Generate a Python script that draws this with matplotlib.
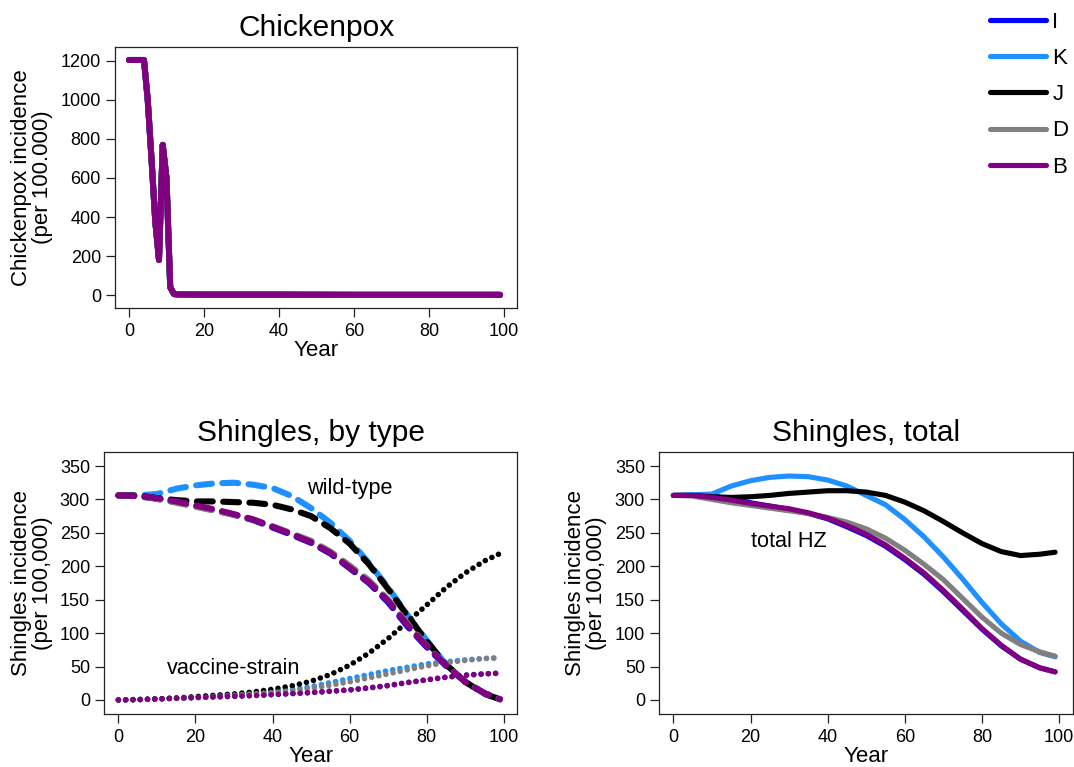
import matplotlib
matplotlib.use("Agg")
import matplotlib.pyplot as plt

plt.rcParams['font.family'] = ['Liberation Sans', 'DejaVu Sans']

# scenarios, drawing order and colours
scenarios = ['I', 'K', 'J', 'D', 'B']
colors = ['#0000FF', '#1E90FF', '#000000', '#808080', '#800080']

# chickenpox incidence (per 100.000), same for every scenario
cp_years = [0, 1, 2, 3, 4, 5, 6, 7, 8, 9, 10, 11, 12, 13, 20, 40, 60, 80, 99]
cp_vals = [1205, 1205, 1205, 1205, 1205, 1000, 700, 380, 180, 770, 600, 40, 5, 3, 2, 2, 1, 1, 1]

years = [0, 5, 10, 15, 20, 25, 30, 35, 40, 45, 50, 55, 60, 65, 70, 75, 80, 85, 90, 95, 99]

# shingles, wild-type (dashed)
wild = {
    'I': [306, 305, 301, 296, 290, 284, 277, 269, 258, 247, 235, 219, 197, 175, 146, 110, 79, 51, 27, 10, 1],
    'K': [306, 306, 308, 316, 321, 324, 325, 322, 317, 305, 287, 265, 238, 205, 168, 127, 89, 53, 27, 9, 1],
    'J': [306, 306, 302, 299, 297, 297, 296, 295, 292, 285, 275, 257, 234, 203, 166, 126, 88, 53, 27, 9, 1],
    'D': [306, 305, 301, 295, 289, 283, 277, 270, 260, 249, 238, 222, 201, 179, 150, 114, 81, 52, 27, 10, 1],
    'B': [306, 305, 302, 297, 291, 285, 278, 270, 259, 248, 236, 220, 198, 176, 148, 112, 80, 52, 27, 10, 1],
}

# shingles, vaccine-strain (dotted)
vacc = {
    'I': [0, 0.5, 1.5, 2.5, 3.5, 4.5, 5.5, 6.5, 8, 9.5, 11, 13, 15, 18, 21.5, 26, 30, 34, 37, 39, 40],
    'K': [0, 0.5, 1.5, 2.5, 4, 6, 8, 10, 13, 16, 20, 26, 32, 38, 44, 49, 54, 57, 60, 62, 63],
    'J': [0, 0.5, 1.5, 3, 5, 7, 9, 12, 16, 21, 28, 38, 52, 70, 92, 117, 142, 168, 190, 208, 219],
    'D': [0, 0.5, 1.5, 2.5, 3.5, 5, 7, 9, 11, 14, 17, 22, 27, 33, 39, 45, 51, 56, 59, 62, 63],
    'B': [0, 0.5, 1.5, 2.5, 3.5, 4.5, 5.5, 6.5, 8, 9.5, 11, 13, 15, 18, 21.5, 26, 30, 34, 37, 39, 40],
}

# shingles, total (solid)
total = {
    'I': [306, 306, 305, 301, 295, 290, 285, 279, 271, 259, 246, 230, 210, 188, 162, 134, 106, 81, 61, 48, 42],
    'K': [306, 307, 308, 320, 328, 333, 335, 334, 329, 320, 306, 292, 270, 244, 214, 181, 146, 114, 88, 71, 64.5],
    'J': [306, 306, 304, 303, 304, 306, 309, 311, 313, 313, 311, 306, 296, 283, 267, 250, 234, 222, 216, 218, 221],
    'D': [306, 305, 300, 295, 291, 287, 283, 279, 273, 266, 256, 242, 224, 203, 180, 152, 124, 100, 83, 72, 65.5],
    'B': [306, 306, 303, 299, 294, 290, 286, 280, 272, 261, 248, 232, 212, 190, 164, 136, 107, 82, 61, 48, 42],
}

W, H = 1074, 767


def box(l, t, r, b):
    return [l / W, 1 - b / H, (r - l) / W, (b - t) / H]


fig = plt.figure(figsize=(W / 100, H / 100), dpi=100)
ax1 = fig.add_axes(box(115.3, 46.7, 517, 308.3))
ax2 = fig.add_axes(box(104.3, 452.3, 517.3, 714.3))
ax3 = fig.add_axes(box(659.3, 452.3, 1072.5, 714.3))

round_kw = dict(solid_capstyle='round', solid_joinstyle='round',
                dash_capstyle='round', dash_joinstyle='round')

for s, c in zip(scenarios, colors):
    ax1.plot(cp_years, cp_vals, color=c, lw=4.3, **round_kw)
    ax2.plot(years, wild[s], color=c, lw=4.4, linestyle=(0, (2.6, 1.7)), **round_kw)
    ax2.plot(years, vacc[s], color=c, lw=4.0, linestyle=(0, (0.01, 1.3)), **round_kw)
    ax3.plot(years, total[s], color=c, lw=3.7, label=s, **round_kw)

ax2.text(60, 317, 'wild-type', ha='center', va='center', fontsize=15.6)
ax2.text(30, 47, 'vaccine-strain', ha='center', va='center', fontsize=15.6)
ax3.text(30, 237, 'total HZ', ha='center', va='center', fontsize=15.6)

for ax in (ax1, ax2, ax3):
    ax.set_xlim(-3.65, 103.5)
    ax.set_xticks(range(0, 101, 20))
    ax.tick_params(direction='out', length=6.3, width=0.9, labelsize=13, pad=4, color='#222222')
    for sp in ax.spines.values():
        sp.set_linewidth(0.9)
        sp.set_color('#222222')
    ax.text(0.5, -42.7 / 262, 'Year', transform=ax.transAxes, ha='center', va='center', fontsize=16)

ax1.set_ylim(-68, 1273)
ax1.set_yticks(range(0, 1201, 200))
ax2.set_ylim(-21.5, 370.5)
ax3.set_ylim(-21.5, 370.5)
ax2.set_yticks(range(0, 351, 50))
ax3.set_yticks(range(0, 351, 50))

ax1.set_title('Chickenpox', fontsize=21.5, pad=8)
ax2.set_title('Shingles, by type', fontsize=21.5, pad=8)
ax3.set_title('Shingles, total', fontsize=21.5, pad=8)

fig.text(32 / W, 1 - 177.5 / H, 'Chickenpox incidence\n(per 100.000)', rotation=90,
         ha='center', va='center', fontsize=16, linespacing=1.0)
fig.text(32 / W, 1 - 583 / H, 'Shingles incidence\n(per 100,000)', rotation=90,
         ha='center', va='center', fontsize=16, linespacing=1.0)
fig.text(586 / W, 1 - 583 / H, 'Shingles incidence\n(per 100,000)', rotation=90,
         ha='center', va='center', fontsize=16, linespacing=1.0)

handles, labels = ax3.get_legend_handles_labels()
fig.legend(handles, labels, loc='upper left', bbox_to_anchor=(990 / W, 1 - 11.5 / H),
           frameon=False, fontsize=16, handlelength=2.5, handletextpad=0.3,
           labelspacing=0.69, borderpad=0, borderaxespad=0)

fig.savefig('out.png', dpi=100)
